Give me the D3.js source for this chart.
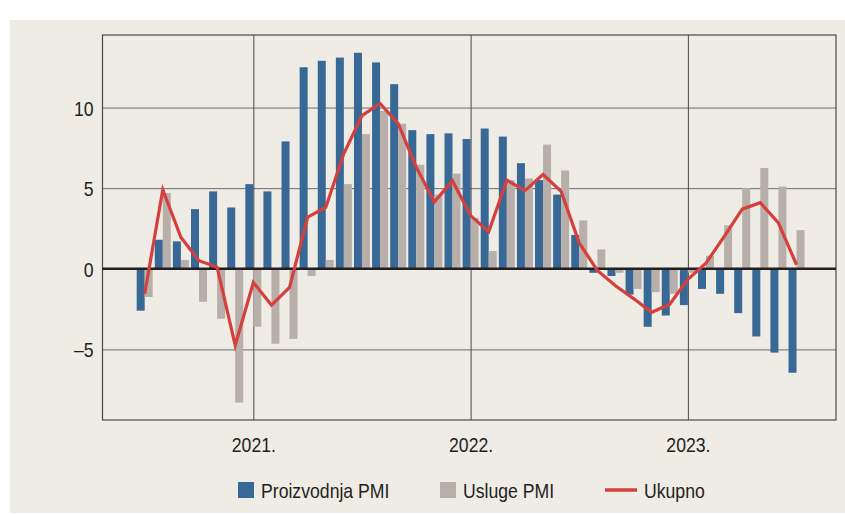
<!DOCTYPE html>
<html lang="hr">
<head>
<meta charset="UTF-8">
<title>PMI</title>
<script src="https://d3js.org/d3.v7.min.js"></script>
<style>
  body { margin: 0; background: #fff; }
  svg text { font-family: "Liberation Sans", Arial, sans-serif; fill: #231f20; }
</style>
</head>
<body>
<div id="chart"></div>
<script>
// mjeseci od srpnja 2020. do srpnja 2023.
var months = ["2020-07","2020-08","2020-09","2020-10","2020-11","2020-12",
  "2021-01","2021-02","2021-03","2021-04","2021-05","2021-06","2021-07","2021-08","2021-09","2021-10","2021-11","2021-12",
  "2022-01","2022-02","2022-03","2022-04","2022-05","2022-06","2022-07","2022-08","2022-09","2022-10","2022-11","2022-12",
  "2023-01","2023-02","2023-03","2023-04","2023-05","2023-06","2023-07"];

var proizvodnja = [-2.6, 1.8, 1.7, 3.7, 4.8, 3.8,
  5.25, 4.8, 7.9, 12.5, 12.9, 13.1, 13.4, 12.8, 11.45, 8.6, 8.35, 8.4,
  8.05, 8.7, 8.2, 6.55, 5.5, 4.6, 2.1, -0.25, -0.45, -1.6, -3.6, -2.9,
  -2.25, -1.25, -1.55, -2.75, -4.2, -5.2, -6.45];

var usluge = [-1.75, 4.7, 0.55, -2.05, -3.1, -8.3,
  -3.6, -4.65, -4.35, -0.45, 0.55, 5.25, 8.35, 9.8, 9.0, 6.45, 4.6, 5.9,
  3.15, 1.1, 5.5, 5.6, 7.7, 6.1, 3.0, 1.2, -0.25, -1.25, -1.45, -1.55,
  -0.25, 0.8, 2.7, 5.0, 6.25, 5.1, 2.4];

var ukupno = [-1.55, 4.9, 1.95, 0.5, 0.1, -4.75,
  -0.85, -2.25, -1.15, 3.2, 3.8, 7.15, 9.5, 10.25, 9.0, 6.3, 4.15, 5.45,
  3.3, 2.3, 5.5, 4.85, 5.85, 4.8, 1.6, -0.1, -1.05, -1.85, -2.7, -2.2,
  -0.65, 0.35, 2.0, 3.7, 4.1, 2.85, 0.25];

var yTicks = [-5, 0, 5, 10];
var yearLabels = ["2021.", "2022.", "2023."];
var yearMonths = ["2021-01", "2022-01", "2023-01"];
var legendNames = ["Proizvodnja PMI", "Usluge PMI", "Ukupno"];

var W = 845, H = 515;
var margin = { top: 35, right: 9, bottom: 95, left: 102.5 };
var width = W - margin.left - margin.right,
    height = H - margin.top - margin.bottom;

var colBlue = "#386896", colGray = "#b8afaa", colRed = "#d5403d";

// the original font is a condensed grotesk, squeeze Arial metrics a bit
function condense(sel) {
  sel.each(function () {
    var l = this.getComputedTextLength();
    d3.select(this)
      .attr("textLength", l * 0.84)
      .attr("lengthAdjust", "spacingAndGlyphs");
  });
}

var svg = d3.select("#chart").append("svg")
  .attr("width", W).attr("height", H);

svg.append("rect")
  .attr("x", 10).attr("y", 20)
  .attr("width", W - 10).attr("height", H - 22)
  .attr("fill", "#efebe5");

var g = svg.append("g")
  .attr("transform", `translate(${margin.left},${margin.top})`);

var x = d3.scaleLinear()
  .domain([-2.33, 38.18])
  .range([0, width]);

var y = d3.scaleLinear()
  .domain([-9.38, 14.5])
  .range([height, 0]);

// horizontal grid + y labels
var yAxis = d3.axisLeft(y)
  .tickValues(yTicks)
  .tickSize(-width)
  .tickPadding(9)
  .tickFormat(function (d) { return d < 0 ? "\u2013" + Math.abs(d) : d; });

var ya = g.append("g").call(yAxis);
ya.select(".domain").remove();
ya.selectAll("line").attr("stroke", "#6e6c6a").attr("stroke-width", 1);
ya.selectAll("text").style("font-size", "21px").attr("dy", "0.36em").call(condense);

// vertical year lines + labels
var xAxis = d3.axisBottom(x)
  .tickValues(yearMonths.map(function (m) { return months.indexOf(m); }))
  .tickSize(-height)
  .tickFormat(function (d, i) { return yearLabels[i]; });

var xa = g.append("g")
  .attr("transform", `translate(0,${height})`)
  .call(xAxis);
xa.select(".domain").remove();
xa.selectAll("line").attr("stroke", "#4a4846").attr("stroke-width", 1);
xa.selectAll("text").style("font-size", "21px").attr("y", 17).attr("dy", "0.71em").call(condense);

// frame
g.append("rect")
  .attr("width", width).attr("height", height)
  .attr("fill", "none").attr("stroke", "#4a4846").attr("stroke-width", 1.2);

// bars
var barW = 8;
g.selectAll(".bar-p")
  .data(proizvodnja)
  .join("rect")
  .attr("class", "bar-p")
  .attr("x", function (d, i) { return x(i) - barW; })
  .attr("width", barW)
  .attr("y", function (d) { return y(Math.max(0, d)); })
  .attr("height", function (d) { return Math.abs(y(d) - y(0)); })
  .attr("fill", colBlue);

g.selectAll(".bar-u")
  .data(usluge)
  .join("rect")
  .attr("class", "bar-u")
  .attr("x", function (d, i) { return x(i); })
  .attr("width", barW)
  .attr("y", function (d) { return y(Math.max(0, d)); })
  .attr("height", function (d) { return Math.abs(y(d) - y(0)); })
  .attr("fill", colGray);

// zero line
g.append("line")
  .attr("x1", 0).attr("x2", width)
  .attr("y1", y(0)).attr("y2", y(0))
  .attr("stroke", "#231f20").attr("stroke-width", 2.5);

// total line
g.append("path")
  .datum(ukupno)
  .attr("fill", "none")
  .attr("stroke", colRed)
  .attr("stroke-width", 3.2)
  .attr("stroke-linejoin", "miter")
  .attr("d", d3.line()
    .x(function (d, i) { return x(i); })
    .y(function (d) { return y(d); }));

// legend
var legend = svg.append("g").attr("transform", "translate(0,490)");
var lx = [238, 440, 605];
var lg = legend.selectAll("g")
  .data(legendNames)
  .join("g")
  .attr("transform", function (d, i) { return `translate(${lx[i]},0)`; });

lg.filter(function (d, i) { return i < 2; })
  .append("rect")
  .attr("x", 0).attr("y", -8)
  .attr("width", 16).attr("height", 16)
  .attr("fill", function (d, i) { return i === 0 ? colBlue : colGray; });

lg.filter(function (d, i) { return i === 2; })
  .append("line")
  .attr("x1", 0).attr("x2", 32)
  .attr("y1", 0).attr("y2", 0)
  .attr("stroke", colRed).attr("stroke-width", 3.5);

lg.append("text")
  .attr("x", function (d, i) { return i === 2 ? 39 : 23; })
  .attr("y", 0)
  .attr("dy", "0.36em")
  .style("font-size", "21px")
  .text(function (d) { return d; })
  .call(condense);
</script>
</body>
</html>
